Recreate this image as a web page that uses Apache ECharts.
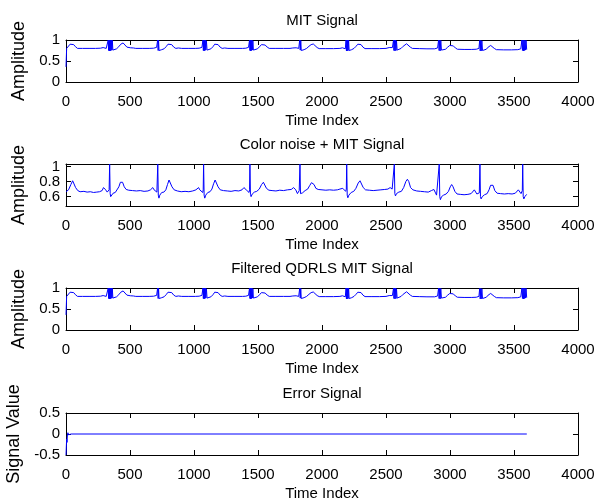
<!DOCTYPE html>
<html>
<head>
<meta charset="utf-8">
<title>MIT signal / QDRLS filter</title>
<script src="https://cdn.jsdelivr.net/npm/echarts@6/dist/echarts.min.js"></script>
<style>
  html, body { margin: 0; padding: 0; background: #fff; }
  #chart { width: 606px; height: 504px; }
</style>
</head>
<body>
<div id="chart"></div>
<script>
// [time index, amplitude]
const mitSignal = [
  [0, 0.36], [3, 0.62], [5, 0.8], [18, 0.84], [32, 0.9], [46, 0.93], [60, 0.89], [74, 0.84], [90, 0.8], [130, 0.8], [180, 0.8], [230, 0.8], [270, 0.805], [290, 0.82], [302, 0.825], [314, 0.8], [322, 0.78], [327, 0.8],
  [330, 1], [333, 0.75], [336, 1], [339, 0.74], [342, 1], [345, 0.74], [348, 1], [351, 0.75], [354, 1], [358, 0.76], [362, 0.99], [366, 0.76],
  [378, 0.765], [395, 0.79], [412, 0.84], [428, 0.9], [446, 0.93], [460, 0.89], [476, 0.83], [490, 0.8], [503, 0.815], [514, 0.825], [527, 0.81], [545, 0.8], [600, 0.8], [650, 0.8], [685, 0.805], [700, 0.82], [708, 0.825], [713, 0.78],
  [716, 1], [720, 0.75], [723, 1], [727, 0.75], [733, 0.78],
  [748, 0.77], [766, 0.79], [782, 0.84], [797, 0.9], [812, 0.925], [826, 0.89], [842, 0.83], [858, 0.8], [878, 0.81], [890, 0.82], [904, 0.8], [960, 0.8], [1010, 0.8], [1040, 0.805], [1054, 0.82], [1062, 0.825], [1067, 0.79],
  [1070, 1], [1073, 0.75], [1076, 1], [1079, 0.74], [1082, 1], [1085, 0.75], [1088, 1], [1092, 0.76], [1097, 0.98], [1102, 0.76],
  [1114, 0.77], [1132, 0.79], [1148, 0.84], [1162, 0.9], [1175, 0.925], [1188, 0.89], [1204, 0.83], [1220, 0.8], [1240, 0.81], [1252, 0.82], [1265, 0.8], [1320, 0.8], [1380, 0.8], [1405, 0.805], [1418, 0.82], [1426, 0.825], [1431, 0.79],
  [1434, 1], [1437, 0.75], [1440, 1], [1443, 0.74], [1446, 1], [1449, 0.75], [1452, 1], [1456, 0.76], [1460, 0.98], [1464, 0.76],
  [1478, 0.77], [1496, 0.79], [1512, 0.84], [1527, 0.89], [1542, 0.915], [1556, 0.88], [1572, 0.83], [1588, 0.8], [1640, 0.8], [1700, 0.8], [1750, 0.8], [1772, 0.81], [1785, 0.82], [1798, 0.815], [1810, 0.79], [1818, 0.8], [1822, 0.78],
  [1826, 1], [1830, 0.76], [1834, 0.99], [1838, 0.75], [1843, 0.78],
  [1860, 0.77], [1880, 0.8], [1898, 0.85], [1915, 0.89], [1932, 0.905], [1946, 0.87], [1962, 0.82], [1978, 0.795], [2030, 0.795], [2090, 0.795], [2140, 0.8], [2160, 0.815], [2172, 0.82], [2182, 0.79],
  [2188, 1], [2191, 0.74], [2194, 1], [2197, 0.74], [2200, 1], [2204, 0.75], [2208, 1], [2212, 0.75], [2218, 0.77],
  [2232, 0.77], [2250, 0.8], [2266, 0.85], [2280, 0.9], [2292, 0.92], [2305, 0.89], [2320, 0.83], [2336, 0.795], [2390, 0.795], [2450, 0.795], [2500, 0.8], [2525, 0.82], [2540, 0.83], [2550, 0.82], [2556, 0.79],
  [2559, 1], [2562, 0.75], [2566, 1], [2570, 0.74], [2574, 1], [2578, 0.75], [2582, 0.98], [2587, 0.76],
  [2600, 0.78], [2618, 0.8], [2634, 0.85], [2648, 0.89], [2661, 0.91], [2674, 0.88], [2690, 0.83], [2706, 0.8], [2760, 0.795], [2820, 0.79], [2880, 0.79], [2895, 0.8], [2903, 0.81], [2908, 0.77],
  [2911, 1], [2915, 0.75], [2919, 0.99], [2923, 0.74], [2928, 0.99], [2933, 0.76],
  [2948, 0.765], [2965, 0.78], [2982, 0.83], [2998, 0.87], [3013, 0.89], [3026, 0.86], [3042, 0.81], [3058, 0.78], [3110, 0.775], [3170, 0.775], [3205, 0.78], [3218, 0.8], [3226, 0.8], [3229, 0.76],
  [3232, 0.99], [3236, 0.74], [3240, 0.99], [3244, 0.74], [3249, 0.98], [3254, 0.75],
  [3268, 0.76], [3284, 0.78], [3298, 0.83], [3309, 0.86], [3318, 0.87], [3330, 0.85], [3346, 0.8], [3362, 0.77], [3420, 0.765], [3480, 0.765], [3530, 0.77], [3545, 0.785], [3553, 0.79], [3558, 0.76],
  [3562, 1], [3566, 0.75], [3570, 1], [3574, 0.74], [3578, 1], [3582, 0.75], [3586, 0.99], [3590, 0.76], [3594, 0.99], [3599, 0.77]
]

const noisySignal = [
  [0, 0.665], [20, 0.69], [38, 0.76], [52, 0.81], [62, 0.79], [75, 0.72], [92, 0.68], [110, 0.665], [140, 0.67], [165, 0.66], [190, 0.665], [215, 0.655], [240, 0.66], [262, 0.665], [282, 0.68], [293, 0.72], [301, 0.735], [310, 0.69], [322, 0.66], [332, 0.645], [337, 0.69],
  [341, 1.03], [345, 0.64], [349, 0.6], [356, 0.615], [368, 0.645], [385, 0.655], [400, 0.675], [413, 0.73], [425, 0.79], [432, 0.81], [442, 0.79], [455, 0.73], [470, 0.695], [490, 0.685], [520, 0.68], [550, 0.675], [580, 0.68], [610, 0.67], [640, 0.675], [660, 0.69], [670, 0.715], [678, 0.72], [688, 0.69], [700, 0.675], [710, 0.66], [714, 0.68],
  [717, 1.03], [721, 0.62], [726, 0.58], [733, 0.62], [748, 0.655], [765, 0.66], [780, 0.69], [793, 0.76], [805, 0.82], [815, 0.8], [828, 0.73], [845, 0.69], [870, 0.675], [900, 0.665], [930, 0.67], [960, 0.665], [990, 0.675], [1015, 0.69], [1028, 0.715], [1036, 0.72], [1045, 0.69], [1060, 0.665], [1068, 0.655], [1072, 0.69],
  [1075, 1.03], [1079, 0.62], [1084, 0.58], [1092, 0.62], [1108, 0.655], [1125, 0.665], [1140, 0.7], [1153, 0.77], [1165, 0.82], [1175, 0.8], [1188, 0.73], [1205, 0.69], [1230, 0.68], [1260, 0.675], [1290, 0.67], [1320, 0.68], [1350, 0.675], [1375, 0.69], [1390, 0.72], [1398, 0.725], [1408, 0.69], [1422, 0.665], [1430, 0.655], [1434, 0.69],
  [1437, 1.03], [1441, 0.63], [1446, 0.6], [1455, 0.635], [1472, 0.66], [1490, 0.67], [1510, 0.7], [1528, 0.76], [1542, 0.79], [1553, 0.77], [1566, 0.71], [1585, 0.685], [1610, 0.68], [1640, 0.675], [1670, 0.685], [1700, 0.68], [1730, 0.69], [1760, 0.695], [1778, 0.72], [1786, 0.725], [1795, 0.69], [1808, 0.64], [1815, 0.625], [1822, 0.68],
  [1828, 1.03], [1832, 0.64], [1838, 0.62], [1848, 0.65], [1868, 0.68], [1888, 0.7], [1905, 0.75], [1918, 0.785], [1927, 0.79], [1938, 0.76], [1952, 0.71], [1970, 0.695], [2000, 0.69], [2030, 0.685], [2060, 0.69], [2090, 0.685], [2120, 0.69], [2140, 0.7], [2153, 0.725], [2162, 0.71], [2175, 0.685], [2185, 0.67], [2190, 0.7],
  [2193, 1.03], [2197, 0.62], [2202, 0.585], [2210, 0.62], [2228, 0.655], [2248, 0.67], [2265, 0.71], [2283, 0.78], [2297, 0.81], [2308, 0.79], [2322, 0.72], [2340, 0.69], [2370, 0.685], [2400, 0.68], [2430, 0.685], [2460, 0.69], [2490, 0.695], [2515, 0.7], [2532, 0.72], [2540, 0.725], [2548, 0.7], [2556, 0.68], [2561, 0.7],
  [2565, 1.03], [2569, 0.64], [2574, 0.61], [2582, 0.64], [2600, 0.66], [2620, 0.67], [2638, 0.72], [2655, 0.8], [2667, 0.83], [2678, 0.8], [2692, 0.72], [2710, 0.69], [2740, 0.675], [2770, 0.67], [2800, 0.665], [2830, 0.66], [2855, 0.68], [2866, 0.7], [2874, 0.695], [2884, 0.66], [2895, 0.62], [2903, 0.6], [2910, 0.64],
  [2916, 1.03], [2920, 0.6], [2925, 0.56], [2934, 0.6], [2950, 0.62], [2970, 0.635], [2988, 0.67], [3002, 0.73], [3013, 0.76], [3024, 0.73], [3038, 0.67], [3055, 0.635], [3080, 0.63], [3110, 0.625], [3140, 0.63], [3165, 0.64], [3180, 0.665], [3190, 0.69], [3198, 0.665], [3210, 0.635], [3222, 0.62], [3229, 0.65],
  [3234, 1.03], [3238, 0.6], [3243, 0.57], [3252, 0.6], [3270, 0.625], [3290, 0.64], [3305, 0.69], [3317, 0.75], [3326, 0.77], [3336, 0.75], [3350, 0.68], [3368, 0.645], [3395, 0.64], [3425, 0.635], [3455, 0.64], [3485, 0.635], [3510, 0.645], [3525, 0.67], [3534, 0.69], [3543, 0.665], [3555, 0.64], [3561, 0.63], [3565, 0.68],
  [3568, 1.03], [3572, 0.6], [3577, 0.57], [3585, 0.6], [3592, 0.625], [3599, 0.63]
]

// the filtered trace reads the same as the clean one in the figure
const filteredSignal = mitSignal

const errorSignal = [
  [0, -0.5], [3, -0.48], [5, -0.12], [8, -0.2], [11, -0.02], [15, 0.03], [20, -0.02], [28, 0.005], [40, 0], [3600, 0]
]

const titles = ['MIT Signal', 'Color noise + MIT Signal', 'Filtered QDRLS MIT Signal', 'Error Signal']
const yNames = ['Amplitude', 'Amplitude', 'Amplitude', 'Signal Value']
const yTicks = [[0, 0.5, 1], [0.6, 0.8, 1], [0, 0.5, 1], [-0.5, 0, 0.5]]
const yLimits = [[0, 1], [0.476, 1.032], [0, 1], [-0.5, 0.5]]
const seriesData = [mitSignal, noisySignal, filteredSignal, errorSignal]

const gridTops = [40, 164, 288, 413]
const font = '"Liberation Sans", Arial, sans-serif'

const lineBlack = { lineStyle: { color: '#000', width: 1 } }
const tickIn = { inside: true, length: 5, lineStyle: { color: '#000', width: 1 } }
const txt = { color: '#000', fontSize: 15, fontFamily: font }

const grid = []
const xAxis = []
const yAxis = []
const series = []

titles.forEach((title, i) => {
  grid.push({ left: 66, right: 28, top: gridTops[i], height: 42, outerBoundsMode: 'none' })

  // bottom axis with labels, top axis only for ticks + title
  xAxis.push({
    type: 'value',
    gridIndex: i,
    position: 'bottom',
    min: 0,
    max: 4000,
    interval: 500,
    axisLine: { onZero: false, ...lineBlack },
    axisTick: tickIn,
    splitLine: { show: false },
    axisLabel: {
      ...txt,
      margin: 12,
      hideOverlap: false,
      alignMinLabel: 'center',
      alignMaxLabel: 'center',
      formatter: v => String(v),
    },
    name: 'Time Index',
    nameLocation: 'middle',
    nameGap: 31,
    nameTextStyle: txt,
  })
  xAxis.push({
    type: 'value',
    gridIndex: i,
    position: 'top',
    min: 0,
    max: 4000,
    interval: 500,
    axisLine: { onZero: false, ...lineBlack },
    axisTick: tickIn,
    splitLine: { show: false },
    axisLabel: { show: false },
    name: title,
    nameLocation: 'middle',
    nameGap: 12,
    nameTextStyle: txt,
  })

  yAxis.push({
    type: 'value',
    gridIndex: i,
    position: 'left',
    min: yLimits[i][0],
    max: yLimits[i][1],
    axisLine: { onZero: false, ...lineBlack },
    axisTick: { ...tickIn, customValues: yTicks[i] },
    splitLine: { show: false },
    axisLabel: {
      ...txt,
      margin: 6,
      hideOverlap: false,
      showMinLabel: true,
      showMaxLabel: true,
      customValues: yTicks[i],
      formatter: v => String(v),
    },
    name: yNames[i],
    nameLocation: 'middle',
    nameGap: 28,
    nameTextStyle: { ...txt, fontSize: 18 },
  })
  yAxis.push({
    type: 'value',
    gridIndex: i,
    position: 'right',
    min: yLimits[i][0],
    max: yLimits[i][1],
    axisLine: { onZero: false, ...lineBlack },
    axisTick: { ...tickIn, customValues: yTicks[i] },
    splitLine: { show: false },
    axisLabel: { show: false },
  })

  series.push({
    type: 'line',
    xAxisIndex: i * 2,
    yAxisIndex: i * 2,
    data: seriesData[i],
    showSymbol: false,
    symbol: 'none',
    lineStyle: { color: '#0000ff', width: 1 },
    z: 1,
  })
})

const chart = echarts.init(document.getElementById('chart'))
chart.setOption({
  animation: false,
  backgroundColor: '#fff',
  grid,
  xAxis,
  yAxis,
  series,
})
</script>
</body>
</html>
